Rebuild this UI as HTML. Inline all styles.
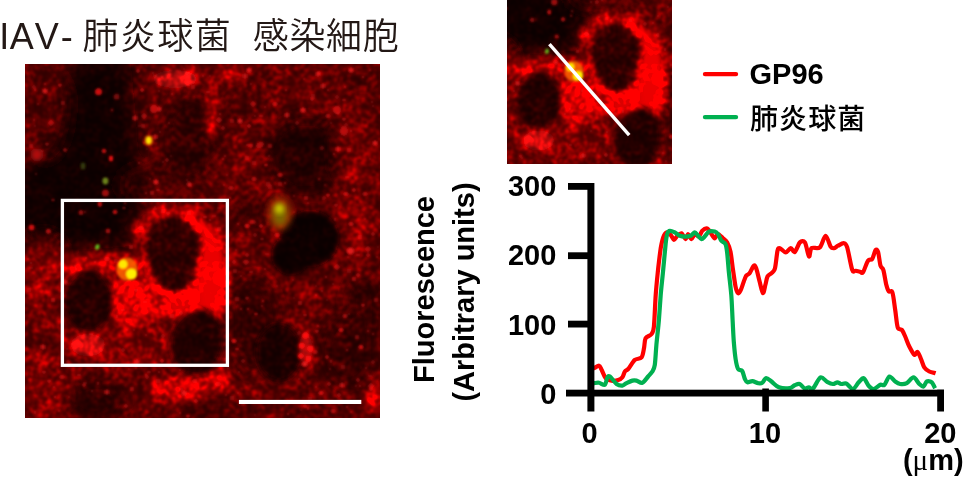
<!DOCTYPE html>
<html lang="ja"><head><meta charset="utf-8"><title>IAV- 肺炎球菌 感染細胞</title>
<style>
html,body{margin:0;padding:0;background:#fff;}
body{width:963px;height:483px;overflow:hidden;position:relative;}
svg{position:absolute;left:0;top:0;display:block;}
.ttl{font-family:"Liberation Sans","Noto Sans CJK JP",sans-serif;font-size:36px;fill:#231815;font-kerning:none;}
.cj{font-weight:350;}
.ax{font-family:"Liberation Sans","Noto Sans CJK JP",sans-serif;font-weight:bold;font-size:29px;fill:#000;}
.lg{font-family:"Liberation Sans","Noto Sans CJK JP",sans-serif;font-size:28px;font-weight:500;fill:#000;}
</style></head><body>
<svg width="963" height="483" viewBox="0 0 963 483">
<defs>
<filter id="b12" x="-20%" y="-20%" width="140%" height="140%"><feGaussianBlur stdDeviation="9"/></filter>
<filter id="b5" x="-20%" y="-20%" width="140%" height="140%"><feGaussianBlur stdDeviation="3.6"/></filter>
<filter id="b4" x="-20%" y="-20%" width="140%" height="140%"><feGaussianBlur stdDeviation="3.5"/></filter>
<filter id="b28" x="-30%" y="-30%" width="160%" height="160%"><feGaussianBlur stdDeviation="2.8"/></filter>
<filter id="b25" x="-30%" y="-30%" width="160%" height="160%"><feGaussianBlur stdDeviation="2.5"/></filter>
<filter id="b09" x="-30%" y="-30%" width="160%" height="160%"><feGaussianBlur stdDeviation="0.9"/></filter>
<filter id="b15" x="-20%" y="-20%" width="140%" height="140%"><feGaussianBlur stdDeviation="1.3"/></filter>
<filter id="tex" filterUnits="userSpaceOnUse" x="0" y="30" width="420" height="420" color-interpolation-filters="sRGB">
<feTurbulence type="fractalNoise" baseFrequency="0.21" numOctaves="2" seed="5" result="n1"/>
<feTurbulence type="fractalNoise" baseFrequency="0.06" numOctaves="2" seed="11" result="n2"/>
<feComposite in="n1" in2="n2" operator="arithmetic" k1="0" k2="0.6" k3="0.4" k4="0"/>
<feColorMatrix type="matrix" values="2.2 0 0 0 -0.6  2.2 0 0 0 -0.6  2.2 0 0 0 -0.6  0 0 0 0 1"/>
<feComponentTransfer><feFuncR type="gamma" exponent="2.0"/><feFuncG type="gamma" exponent="2.0"/><feFuncB type="gamma" exponent="2.0"/></feComponentTransfer>
<feGaussianBlur stdDeviation="0.9" result="g"/>
<feComposite in="SourceGraphic" in2="g" operator="arithmetic" k1="1.6" k2="0.62" k3="0" k4="0" result="noisy"/>
<feComponentTransfer in="SourceGraphic" result="hi"><feFuncR type="linear" slope="2.2" intercept="-1.28"/><feFuncG type="linear" slope="0" intercept="0"/><feFuncB type="linear" slope="0" intercept="0"/></feComponentTransfer>
<feBlend in="noisy" in2="hi" mode="lighten"/>
</filter>
<clipPath id="cm"><rect x="25.5" y="64.3" width="354.0" height="353.3"/></clipPath>
<clipPath id="ci"><rect x="507" y="-2" width="165" height="166"/></clipPath>
<g id="micro">
<g filter="url(#tex)">
<rect x="0" y="30" width="420" height="420" fill="#5c0000"/>
<g filter="url(#b12)"><polygon points="72,55 130,55 136,120 138,150 146,175 146,200 130,246 62,252 15,248 15,168 48,150 62,110" fill="#100000" opacity="0.97"/><ellipse cx="190" cy="140" rx="30" ry="46" fill="#2a0000" opacity="0.9"/><ellipse cx="242" cy="105" rx="22" ry="22" fill="#400000" opacity="0.6"/><ellipse cx="306" cy="156" rx="40" ry="40" fill="#1a0000" opacity="0.95"/><ellipse cx="248" cy="212" rx="15" ry="14" fill="#2c0000" opacity="0.85"/><ellipse cx="254" cy="325" rx="24" ry="50" fill="#280000" opacity="0.85"/><ellipse cx="364" cy="305" rx="18" ry="32" fill="#280000" opacity="0.8"/><ellipse cx="348" cy="352" rx="28" ry="38" fill="#2c0000" opacity="0.85"/><ellipse cx="310" cy="414" rx="22" ry="10" fill="#340000" opacity="0.7"/><ellipse cx="95" cy="400" rx="30" ry="22" fill="#220000" opacity="0.9"/><ellipse cx="205" cy="418" rx="45" ry="9" fill="#300000" opacity="0.8"/><ellipse cx="362" cy="80" rx="22" ry="12" fill="#380000" opacity="0.7"/><ellipse cx="150" cy="185" rx="30" ry="16" fill="#380000" opacity="0.7"/><ellipse cx="45" cy="110" rx="22" ry="50" fill="#400000" opacity="0.5"/><ellipse cx="120" cy="338" rx="62" ry="30" fill="#7c0000" opacity="0.9"/><ellipse cx="43" cy="280" rx="18" ry="40" fill="#800000" opacity="0.9"/><ellipse cx="43" cy="388" rx="18" ry="32" fill="#800000" opacity="0.9"/><ellipse cx="352" cy="150" rx="10" ry="35" fill="#900000" opacity="0.7"/><ellipse cx="355" cy="228" rx="22" ry="30" fill="#800000" opacity="0.7"/><ellipse cx="240" cy="170" rx="26" ry="20" fill="#700000" opacity="0.6"/></g>
<g filter="url(#b5)"><ellipse cx="152" cy="226" rx="24" ry="13" fill="#a80000" opacity="0.85" transform="rotate(-35 152 226)"/><ellipse cx="176" cy="212.5" rx="25" ry="6.5" fill="#e00000" opacity="0.85"/><ellipse cx="183" cy="267" rx="42" ry="52" fill="#f80000" opacity="1"/><ellipse cx="213" cy="276" rx="15" ry="46" fill="#ff0000" opacity="1"/><ellipse cx="137" cy="300" rx="30" ry="22" fill="#d00000" opacity="0.9"/><ellipse cx="88" cy="345" rx="17" ry="11" fill="#f01010" opacity="0.9"/><ellipse cx="92" cy="265" rx="50" ry="11" fill="#c00000" opacity="0.85"/><ellipse cx="128" cy="300" rx="20" ry="30" fill="#d00000" opacity="0.8"/><ellipse cx="180" cy="389" rx="32" ry="12" fill="#d80000" opacity="0.88"/><ellipse cx="216" cy="381" rx="13" ry="13" fill="#d80000" opacity="0.88"/><ellipse cx="175" cy="79" rx="22" ry="9" fill="#d01010" opacity="0.8"/><ellipse cx="232" cy="75" rx="14" ry="8" fill="#c00000" opacity="0.7"/><ellipse cx="212" cy="108" rx="5" ry="30" fill="#d00000" opacity="0.8"/><ellipse cx="372" cy="402" rx="9" ry="10" fill="#e00000" opacity="0.8"/></g>
<g filter="url(#b28)"><ellipse cx="172.5" cy="248" rx="28" ry="32" fill="#2e0000" opacity="1"/><ellipse cx="174.5" cy="268" rx="22.5" ry="24" fill="#2e0000" opacity="1"/><ellipse cx="88.5" cy="301" rx="23.5" ry="30.5" fill="#240000" opacity="1"/><ellipse cx="197" cy="342" rx="26" ry="32.5" fill="#200000" opacity="1" transform="rotate(10 197 342)"/><ellipse cx="310" cy="238.5" rx="29" ry="28.5" fill="#110000" opacity="1"/><ellipse cx="291" cy="255" rx="19.5" ry="20" fill="#110000" opacity="1"/><ellipse cx="279" cy="352.5" rx="23" ry="29" fill="#1a0000" opacity="1"/></g>
</g>
<g fill="#ff1c1c" filter="url(#b09)"><circle cx="261" cy="116" r="1.3" opacity="0.6"/><circle cx="123" cy="350" r="1.8" opacity="0.4"/><circle cx="345" cy="87" r="0.9" opacity="0.75"/><circle cx="268" cy="184" r="2.6" opacity="0.3"/><circle cx="34" cy="87" r="1.8" opacity="0.4"/><circle cx="59" cy="411" r="0.9" opacity="0.6"/><circle cx="368" cy="255" r="1.8" opacity="0.4"/><circle cx="370" cy="376" r="1.8" opacity="0.3"/><circle cx="168" cy="213" r="1.5" opacity="0.75"/><circle cx="162" cy="77" r="1.1" opacity="0.5"/><circle cx="152" cy="193" r="2.2" opacity="0.5"/><circle cx="203" cy="76" r="1.5" opacity="0.3"/><circle cx="163" cy="336" r="1.8" opacity="0.4"/><circle cx="251" cy="84" r="1.1" opacity="0.5"/><circle cx="196" cy="401" r="1.8" opacity="0.5"/><circle cx="91" cy="334" r="1.8" opacity="0.3"/><circle cx="360" cy="386" r="1.1" opacity="0.4"/><circle cx="219" cy="120" r="2.6" opacity="0.5"/><circle cx="251" cy="146" r="1.5" opacity="0.6"/><circle cx="247" cy="158" r="2.2" opacity="0.4"/><circle cx="252" cy="222" r="2.2" opacity="0.5"/><circle cx="210" cy="76" r="0.9" opacity="0.4"/><circle cx="223" cy="159" r="1.1" opacity="0.6"/><circle cx="193" cy="87" r="2.2" opacity="0.5"/><circle cx="294" cy="212" r="1.5" opacity="0.4"/><circle cx="231" cy="188" r="2.2" opacity="0.6"/><circle cx="225" cy="72" r="0.9" opacity="0.3"/><circle cx="342" cy="385" r="2.6" opacity="0.6"/><circle cx="305" cy="315" r="1.3" opacity="0.75"/><circle cx="265" cy="269" r="1.3" opacity="0.5"/><circle cx="280" cy="175" r="2.2" opacity="0.6"/><circle cx="155" cy="76" r="1.5" opacity="0.6"/><circle cx="147" cy="149" r="1.1" opacity="0.3"/><circle cx="365" cy="194" r="2.2" opacity="0.6"/><circle cx="131" cy="247" r="2.2" opacity="0.5"/><circle cx="327" cy="357" r="1.8" opacity="0.6"/><circle cx="210" cy="220" r="0.9" opacity="0.75"/><circle cx="227" cy="175" r="0.9" opacity="0.5"/><circle cx="299" cy="379" r="1.1" opacity="0.4"/><circle cx="155" cy="209" r="1.3" opacity="0.6"/><circle cx="312" cy="342" r="1.1" opacity="0.4"/><circle cx="306" cy="198" r="2.2" opacity="0.5"/><circle cx="146" cy="335" r="1.5" opacity="0.4"/><circle cx="368" cy="249" r="2.6" opacity="0.5"/><circle cx="371" cy="386" r="2.6" opacity="0.5"/><circle cx="36" cy="174" r="1.1" opacity="0.4"/><circle cx="136" cy="368" r="0.9" opacity="0.5"/><circle cx="267" cy="254" r="1.8" opacity="0.3"/><circle cx="163" cy="211" r="2.2" opacity="0.5"/><circle cx="34" cy="120" r="1.3" opacity="0.3"/><circle cx="363" cy="305" r="1.5" opacity="0.75"/><circle cx="159" cy="91" r="1.3" opacity="0.3"/><circle cx="321" cy="393" r="2.2" opacity="0.75"/><circle cx="243" cy="404" r="2.2" opacity="0.3"/><circle cx="235" cy="271" r="2.2" opacity="0.4"/><circle cx="189" cy="184" r="2.6" opacity="0.5"/><circle cx="308" cy="203" r="1.3" opacity="0.3"/><circle cx="373" cy="334" r="1.3" opacity="0.4"/><circle cx="132" cy="389" r="2.2" opacity="0.5"/><circle cx="31" cy="146" r="2.2" opacity="0.5"/><circle cx="317" cy="331" r="1.5" opacity="0.6"/><circle cx="147" cy="377" r="1.8" opacity="0.5"/><circle cx="225" cy="359" r="1.5" opacity="0.5"/><circle cx="115" cy="212" r="2.2" opacity="0.75"/><circle cx="249" cy="126" r="1.8" opacity="0.75"/><circle cx="230" cy="198" r="1.3" opacity="0.5"/><circle cx="358" cy="275" r="1.8" opacity="0.6"/><circle cx="339" cy="395" r="1.8" opacity="0.5"/><circle cx="328" cy="116" r="2.2" opacity="0.6"/><circle cx="331" cy="123" r="0.9" opacity="0.5"/><circle cx="322" cy="148" r="2.2" opacity="0.3"/><circle cx="251" cy="272" r="1.3" opacity="0.6"/><circle cx="163" cy="162" r="1.1" opacity="0.4"/><circle cx="234" cy="341" r="2.2" opacity="0.75"/><circle cx="325" cy="185" r="1.1" opacity="0.3"/><circle cx="53" cy="300" r="2.2" opacity="0.5"/><circle cx="344" cy="119" r="1.5" opacity="0.75"/><circle cx="45" cy="84" r="1.3" opacity="0.4"/><circle cx="238" cy="393" r="1.1" opacity="0.6"/><circle cx="329" cy="384" r="1.8" opacity="0.5"/><circle cx="303" cy="110" r="2.6" opacity="0.75"/><circle cx="65" cy="150" r="1.8" opacity="0.6"/><circle cx="65" cy="282" r="2.6" opacity="0.75"/><circle cx="322" cy="291" r="0.9" opacity="0.6"/><circle cx="162" cy="361" r="1.8" opacity="0.75"/><circle cx="368" cy="331" r="0.9" opacity="0.75"/><circle cx="158" cy="381" r="2.6" opacity="0.3"/><circle cx="375" cy="143" r="2.6" opacity="0.75"/><circle cx="300" cy="303" r="2.2" opacity="0.5"/><circle cx="270" cy="187" r="2.6" opacity="0.3"/><circle cx="67" cy="349" r="1.1" opacity="0.4"/><circle cx="86" cy="258" r="1.3" opacity="0.4"/><circle cx="319" cy="73" r="1.5" opacity="0.75"/><circle cx="187" cy="180" r="1.3" opacity="0.3"/><circle cx="127" cy="330" r="1.1" opacity="0.3"/><circle cx="354" cy="190" r="1.8" opacity="0.6"/><circle cx="158" cy="190" r="1.3" opacity="0.75"/><circle cx="333" cy="284" r="0.9" opacity="0.5"/><circle cx="246" cy="262" r="2.6" opacity="0.3"/><circle cx="349" cy="150" r="2.6" opacity="0.4"/><circle cx="337" cy="97" r="1.8" opacity="0.4"/><circle cx="288" cy="414" r="1.3" opacity="0.5"/><circle cx="347" cy="177" r="1.3" opacity="0.6"/><circle cx="343" cy="367" r="2.6" opacity="0.3"/><circle cx="262" cy="239" r="1.1" opacity="0.75"/><circle cx="98" cy="383" r="1.5" opacity="0.5"/><circle cx="373" cy="362" r="1.8" opacity="0.4"/><circle cx="373" cy="106" r="1.1" opacity="0.4"/><circle cx="351" cy="224" r="2.2" opacity="0.6"/><circle cx="346" cy="125" r="1.8" opacity="0.4"/><circle cx="255" cy="116" r="1.1" opacity="0.5"/><circle cx="247" cy="298" r="1.5" opacity="0.6"/><circle cx="287" cy="115" r="2.6" opacity="0.6"/><circle cx="241" cy="309" r="1.1" opacity="0.6"/><circle cx="305" cy="406" r="1.8" opacity="0.75"/><circle cx="236" cy="250" r="1.3" opacity="0.3"/><circle cx="348" cy="257" r="0.9" opacity="0.6"/><circle cx="238" cy="224" r="1.1" opacity="0.6"/><circle cx="263" cy="301" r="0.9" opacity="0.75"/><circle cx="181" cy="389" r="1.8" opacity="0.3"/><circle cx="51" cy="123" r="2.6" opacity="0.5"/><circle cx="370" cy="70" r="0.9" opacity="0.5"/><circle cx="294" cy="196" r="1.3" opacity="0.3"/><circle cx="349" cy="271" r="2.6" opacity="0.3"/><circle cx="335" cy="219" r="1.5" opacity="0.5"/><circle cx="360" cy="386" r="0.9" opacity="0.5"/><circle cx="123" cy="310" r="1.3" opacity="0.6"/><circle cx="194" cy="67" r="0.9" opacity="0.4"/><circle cx="107" cy="392" r="2.6" opacity="0.6"/><circle cx="338" cy="334" r="0.9" opacity="0.3"/><circle cx="339" cy="404" r="1.1" opacity="0.6"/><circle cx="44" cy="372" r="1.5" opacity="0.75"/><circle cx="137" cy="316" r="1.1" opacity="0.3"/><circle cx="172" cy="94" r="1.5" opacity="0.3"/><circle cx="139" cy="163" r="1.3" opacity="0.5"/><circle cx="301" cy="410" r="0.9" opacity="0.4"/><circle cx="256" cy="314" r="1.3" opacity="0.75"/><circle cx="328" cy="195" r="1.5" opacity="0.75"/><circle cx="68" cy="362" r="1.8" opacity="0.5"/><circle cx="280" cy="184" r="2.2" opacity="0.4"/><circle cx="134" cy="330" r="0.9" opacity="0.6"/><circle cx="138" cy="71" r="1.8" opacity="0.6"/><circle cx="247" cy="368" r="0.9" opacity="0.3"/><circle cx="62" cy="377" r="2.2" opacity="0.6"/><circle cx="255" cy="235" r="1.8" opacity="0.4"/><circle cx="219" cy="208" r="1.8" opacity="0.3"/><circle cx="357" cy="337" r="2.2" opacity="0.4"/><circle cx="318" cy="74" r="2.6" opacity="0.6"/><circle cx="333" cy="411" r="2.2" opacity="0.6"/><circle cx="84" cy="385" r="1.8" opacity="0.6"/><circle cx="139" cy="126" r="1.1" opacity="0.3"/><circle cx="358" cy="255" r="1.1" opacity="0.75"/><circle cx="117" cy="316" r="1.5" opacity="0.5"/><circle cx="247" cy="226" r="2.2" opacity="0.75"/><circle cx="29" cy="290" r="2.6" opacity="0.3"/><circle cx="49" cy="381" r="1.5" opacity="0.6"/><circle cx="245" cy="76" r="2.6" opacity="0.6"/><circle cx="167" cy="160" r="1.8" opacity="0.5"/><circle cx="160" cy="132" r="1.3" opacity="0.4"/><circle cx="239" cy="372" r="1.1" opacity="0.4"/><circle cx="247" cy="255" r="1.8" opacity="0.4"/><circle cx="159" cy="109" r="2.6" opacity="0.75"/><circle cx="47" cy="144" r="1.5" opacity="0.6"/><circle cx="69" cy="397" r="0.9" opacity="0.4"/><circle cx="313" cy="96" r="2.6" opacity="0.3"/><circle cx="135" cy="118" r="2.6" opacity="0.6"/><circle cx="293" cy="280" r="1.3" opacity="0.3"/><circle cx="249" cy="70" r="2.6" opacity="0.75"/><circle cx="347" cy="407" r="1.1" opacity="0.6"/><circle cx="308" cy="408" r="1.5" opacity="0.5"/><circle cx="137" cy="362" r="2.6" opacity="0.75"/><circle cx="265" cy="107" r="1.1" opacity="0.6"/><circle cx="316" cy="286" r="1.1" opacity="0.3"/><circle cx="270" cy="146" r="2.2" opacity="0.4"/><circle cx="70" cy="364" r="1.8" opacity="0.3"/><circle cx="254" cy="179" r="2.2" opacity="0.6"/><circle cx="326" cy="277" r="1.3" opacity="0.5"/><circle cx="129" cy="369" r="1.1" opacity="0.5"/><circle cx="79" cy="375" r="1.1" opacity="0.75"/><circle cx="31" cy="268" r="1.8" opacity="0.3"/><circle cx="188" cy="416" r="1.5" opacity="0.75"/><circle cx="237" cy="349" r="1.3" opacity="0.75"/><circle cx="315" cy="352" r="2.2" opacity="0.6"/><circle cx="141" cy="228" r="2.2" opacity="0.75"/><circle cx="149" cy="372" r="1.1" opacity="0.75"/><circle cx="254" cy="222" r="1.8" opacity="0.4"/><circle cx="361" cy="347" r="2.2" opacity="0.75"/><circle cx="205" cy="217" r="1.3" opacity="0.75"/><circle cx="124" cy="208" r="1.1" opacity="0.75"/><circle cx="331" cy="361" r="1.5" opacity="0.5"/><circle cx="195" cy="381" r="2.2" opacity="0.4"/><circle cx="319" cy="179" r="1.5" opacity="0.3"/><circle cx="338" cy="113" r="1.5" opacity="0.75"/><circle cx="251" cy="145" r="1.1" opacity="0.75"/><circle cx="354" cy="279" r="2.2" opacity="0.5"/><circle cx="228" cy="340" r="0.9" opacity="0.6"/><circle cx="349" cy="314" r="1.3" opacity="0.3"/><circle cx="85" cy="383" r="1.8" opacity="0.3"/><circle cx="107" cy="259" r="2.2" opacity="0.75"/><circle cx="35" cy="412" r="1.5" opacity="0.5"/><circle cx="227" cy="245" r="1.8" opacity="0.5"/><circle cx="43" cy="347" r="2.6" opacity="0.6"/><circle cx="187" cy="73" r="1.5" opacity="0.75"/><circle cx="334" cy="154" r="0.9" opacity="0.75"/><circle cx="159" cy="372" r="1.5" opacity="0.4"/><circle cx="346" cy="194" r="2.2" opacity="0.75"/><circle cx="234" cy="262" r="1.8" opacity="0.4"/><circle cx="240" cy="121" r="2.6" opacity="0.75"/><circle cx="230" cy="113" r="0.9" opacity="0.3"/><circle cx="172" cy="316" r="2.2" opacity="0.5"/><circle cx="344" cy="100" r="1.3" opacity="0.75"/><circle cx="208" cy="92" r="1.3" opacity="0.75"/><circle cx="226" cy="395" r="0.9" opacity="0.6"/><circle cx="299" cy="333" r="2.2" opacity="0.3"/><circle cx="214" cy="216" r="1.8" opacity="0.3"/><circle cx="31" cy="263" r="1.3" opacity="0.5"/><circle cx="318" cy="326" r="1.3" opacity="0.4"/><circle cx="224" cy="185" r="0.9" opacity="0.6"/><circle cx="116" cy="261" r="2.6" opacity="0.3"/><circle cx="28" cy="259" r="1.1" opacity="0.5"/><circle cx="228" cy="368" r="1.5" opacity="0.4"/><circle cx="194" cy="381" r="1.1" opacity="0.6"/><circle cx="35" cy="126" r="0.9" opacity="0.4"/><circle cx="53" cy="200" r="1.3" opacity="0.6"/><circle cx="248" cy="145" r="1.3" opacity="0.6"/><circle cx="155" cy="207" r="0.9" opacity="0.4"/><circle cx="312" cy="99" r="1.8" opacity="0.75"/><circle cx="262" cy="306" r="1.1" opacity="0.5"/><circle cx="104" cy="151" r="2.2" opacity="0.75"/><circle cx="304" cy="79" r="0.9" opacity="0.4"/><circle cx="370" cy="159" r="0.9" opacity="0.4"/><circle cx="351" cy="131" r="1.3" opacity="0.5"/><circle cx="175" cy="202" r="0.9" opacity="0.6"/><circle cx="155" cy="137" r="2.6" opacity="0.6"/><circle cx="75" cy="266" r="1.5" opacity="0.4"/><circle cx="248" cy="309" r="1.3" opacity="0.5"/><circle cx="253" cy="104" r="2.6" opacity="0.5"/><circle cx="246" cy="262" r="2.6" opacity="0.3"/><circle cx="285" cy="183" r="1.3" opacity="0.5"/><circle cx="243" cy="361" r="1.8" opacity="0.4"/><circle cx="220" cy="114" r="1.3" opacity="0.4"/><circle cx="132" cy="364" r="1.5" opacity="0.4"/><circle cx="294" cy="298" r="1.1" opacity="0.3"/><circle cx="377" cy="257" r="0.9" opacity="0.6"/><circle cx="184" cy="69" r="1.1" opacity="0.4"/><circle cx="366" cy="368" r="1.3" opacity="0.4"/><circle cx="341" cy="330" r="2.2" opacity="0.75"/><circle cx="241" cy="276" r="1.1" opacity="0.6"/><circle cx="297" cy="123" r="1.8" opacity="0.4"/><circle cx="112" cy="110" r="1.5" opacity="0.4"/><circle cx="92" cy="391" r="1.3" opacity="0.4"/><circle cx="35" cy="90" r="1.3" opacity="0.5"/><circle cx="171" cy="156" r="1.1" opacity="0.3"/><circle cx="254" cy="163" r="2.6" opacity="0.3"/><circle cx="218" cy="384" r="2.2" opacity="0.75"/><circle cx="351" cy="70" r="2.6" opacity="0.75"/><circle cx="286" cy="90" r="1.5" opacity="0.4"/><circle cx="316" cy="295" r="1.5" opacity="0.4"/><circle cx="38" cy="104" r="0.9" opacity="0.6"/><circle cx="189" cy="213" r="2.6" opacity="0.3"/><circle cx="345" cy="316" r="2.2" opacity="0.6"/><circle cx="266" cy="165" r="1.3" opacity="0.75"/><circle cx="223" cy="128" r="1.8" opacity="0.5"/><circle cx="255" cy="415" r="0.9" opacity="0.4"/><circle cx="358" cy="380" r="1.8" opacity="0.5"/><circle cx="156" cy="182" r="2.6" opacity="0.75"/><circle cx="125" cy="203" r="1.3" opacity="0.4"/><circle cx="376" cy="300" r="2.2" opacity="0.4"/><circle cx="347" cy="350" r="1.1" opacity="0.6"/><circle cx="45" cy="91" r="2.6" opacity="0.75"/><circle cx="76" cy="269" r="0.9" opacity="0.75"/><circle cx="310" cy="399" r="2.6" opacity="0.3"/><circle cx="150" cy="138" r="1.1" opacity="0.3"/><circle cx="371" cy="389" r="1.8" opacity="0.5"/><circle cx="181" cy="313" r="1.8" opacity="0.6"/><circle cx="42" cy="151" r="1.1" opacity="0.75"/><circle cx="150" cy="179" r="1.1" opacity="0.4"/><circle cx="190" cy="185" r="2.2" opacity="0.5"/><circle cx="225" cy="156" r="1.5" opacity="0.4"/><circle cx="275" cy="104" r="2.2" opacity="0.6"/><circle cx="55" cy="397" r="1.3" opacity="0.5"/><circle cx="145" cy="302" r="1.1" opacity="0.75"/><circle cx="316" cy="387" r="0.9" opacity="0.5"/><circle cx="146" cy="193" r="1.5" opacity="0.4"/><circle cx="144" cy="143" r="0.9" opacity="0.75"/><circle cx="330" cy="369" r="1.1" opacity="0.4"/><circle cx="184" cy="393" r="2.6" opacity="0.75"/><circle cx="324" cy="198" r="2.2" opacity="0.3"/><circle cx="344" cy="194" r="1.1" opacity="0.6"/><circle cx="232" cy="398" r="2.6" opacity="0.4"/><circle cx="277" cy="286" r="0.9" opacity="0.4"/><circle cx="269" cy="156" r="1.3" opacity="0.3"/><circle cx="95" cy="262" r="0.9" opacity="0.75"/><circle cx="356" cy="386" r="1.3" opacity="0.3"/><circle cx="363" cy="77" r="1.3" opacity="0.5"/><circle cx="323" cy="86" r="2.6" opacity="0.6"/><circle cx="277" cy="235" r="2.2" opacity="0.75"/><circle cx="61" cy="291" r="1.1" opacity="0.6"/><circle cx="142" cy="90" r="1.8" opacity="0.75"/><circle cx="180" cy="370" r="1.5" opacity="0.3"/><circle cx="126" cy="261" r="1.3" opacity="0.3"/><circle cx="63" cy="278" r="0.9" opacity="0.3"/><circle cx="338" cy="149" r="2.6" opacity="0.6"/><circle cx="60" cy="85" r="1.5" opacity="0.75"/><circle cx="169" cy="123" r="1.1" opacity="0.6"/><circle cx="365" cy="219" r="1.1" opacity="0.3"/><circle cx="336" cy="205" r="1.5" opacity="0.6"/><circle cx="373" cy="234" r="1.8" opacity="0.6"/><circle cx="232" cy="121" r="2.2" opacity="0.4"/><circle cx="328" cy="90" r="1.5" opacity="0.3"/><circle cx="239" cy="223" r="0.9" opacity="0.3"/><circle cx="144" cy="116" r="2.6" opacity="0.5"/><circle cx="360" cy="237" r="2.6" opacity="0.3"/><circle cx="337" cy="267" r="2.6" opacity="0.5"/><circle cx="153" cy="73" r="1.5" opacity="0.3"/><circle cx="146" cy="375" r="1.5" opacity="0.4"/><circle cx="378" cy="247" r="0.9" opacity="0.4"/><circle cx="126" cy="406" r="1.8" opacity="0.6"/><circle cx="54" cy="387" r="0.9" opacity="0.75"/><circle cx="85" cy="212" r="1.1" opacity="0.5"/><circle cx="143" cy="126" r="2.2" opacity="0.4"/><circle cx="237" cy="299" r="2.6" opacity="0.4"/><circle cx="63" cy="103" r="2.2" opacity="0.4"/><circle cx="327" cy="300" r="1.1" opacity="0.3"/><circle cx="219" cy="229" r="2.2" opacity="0.4"/><circle cx="351" cy="412" r="1.3" opacity="0.3"/><circle cx="372" cy="102" r="1.1" opacity="0.6"/><circle cx="261" cy="226" r="1.8" opacity="0.75"/><circle cx="136" cy="290" r="1.5" opacity="0.75"/><circle cx="180" cy="413" r="0.9" opacity="0.75"/></g>
<g filter="url(#b25)"><ellipse cx="305.5" cy="349" rx="7" ry="15" fill="#e01010" opacity="0.55"/><ellipse cx="37" cy="154.7" rx="6.5" ry="6.5" fill="#c01010" opacity="0.9"/></g>
<g filter="url(#b4)"><ellipse cx="280" cy="213" rx="12" ry="17" fill="#b82800" opacity="0.75"/><ellipse cx="280" cy="214.5" rx="7.5" ry="12" fill="#747000" opacity="0.9"/></g>
<g filter="url(#b25)"><ellipse cx="279.3" cy="208.8" rx="4.6" ry="5" fill="#d0cc00" opacity="0.95"/></g>
<g filter="url(#b15)"><ellipse cx="98.5" cy="91.7" rx="3.5" ry="3.5" fill="#e01010" opacity="0.9"/><ellipse cx="305.6" cy="335.5" rx="3.6" ry="3.6" fill="#ff0a0a" opacity="1"/><ellipse cx="301.9" cy="345.8" rx="3.2" ry="3.2" fill="#ff0a0a" opacity="0.95"/><ellipse cx="310.3" cy="348.6" rx="3.4" ry="3.4" fill="#ff0a0a" opacity="0.95"/><ellipse cx="300.9" cy="356" rx="3" ry="3" fill="#ff0a0a" opacity="0.9"/><ellipse cx="308.4" cy="358.8" rx="3.2" ry="3.2" fill="#ff0a0a" opacity="0.95"/><ellipse cx="304.7" cy="364" rx="2.6" ry="2.6" fill="#f02020" opacity="0.8"/><ellipse cx="116.6" cy="96.7" rx="3" ry="3" fill="#a01010" opacity="0.7"/><ellipse cx="154" cy="109" rx="4" ry="4" fill="#d01010" opacity="0.8"/><ellipse cx="111" cy="158.4" rx="2.2" ry="3" fill="#f01010" opacity="0.95"/><ellipse cx="105.4" cy="181" rx="3" ry="3.4" fill="#80a020" opacity="0.8"/><ellipse cx="105.4" cy="193" rx="3.5" ry="3.5" fill="#c01010" opacity="0.8"/><ellipse cx="83" cy="166" rx="2.5" ry="3.5" fill="#405010" opacity="0.7"/><ellipse cx="31.5" cy="227.6" rx="3" ry="3" fill="#e01010" opacity="0.9"/><ellipse cx="48.4" cy="231.3" rx="2.5" ry="2.5" fill="#c01010" opacity="0.9"/><ellipse cx="81" cy="212.6" rx="2.5" ry="2.5" fill="#b01010" opacity="0.8"/><ellipse cx="99.8" cy="204" rx="2.2" ry="2.8" fill="#d01010" opacity="0.9"/><ellipse cx="108" cy="231" rx="2.5" ry="2.5" fill="#c01010" opacity="0.8"/><ellipse cx="97.3" cy="247" rx="2.1" ry="2.8" fill="#60c020" opacity="0.95" transform="rotate(20 97.3 247)"/><ellipse cx="350.5" cy="251" rx="3.5" ry="3.5" fill="#f02020" opacity="0.8"/><ellipse cx="337" cy="110" rx="4" ry="4" fill="#d81010" opacity="0.8"/><ellipse cx="260" cy="145" rx="4" ry="3" fill="#d01010" opacity="0.7" transform="rotate(-30 260 145)"/><ellipse cx="344" cy="131" rx="4" ry="5" fill="#e01010" opacity="0.7"/></g>
<g filter="url(#b09)"><ellipse cx="127" cy="269" rx="10.5" ry="11.5" fill="#ff6a00" opacity="0.82"/><ellipse cx="123" cy="264.2" rx="4.6" ry="4.6" fill="#ffe800" opacity="1"/><ellipse cx="131.5" cy="274" rx="5.5" ry="5.5" fill="#fff000" opacity="1"/><ellipse cx="148.7" cy="140.4" rx="5.5" ry="6" fill="#ff3000" opacity="0.45"/><ellipse cx="148.7" cy="140.4" rx="3.0" ry="3.8" fill="#ffe000" opacity="1"/></g>
</g>
</defs>
<rect width="963" height="483" fill="#fff"/>
<g clip-path="url(#cm)"><use href="#micro"/></g>
<rect x="62.4" y="200.4" width="165" height="164.9" fill="none" stroke="#fff" stroke-width="3.3"/>
<rect x="238.9" y="399.9" width="122.4" height="4.1" fill="#fff"/>
<g clip-path="url(#ci)"><use href="#micro" transform="translate(458.35 -173.5) scale(0.91)"/></g>
<line x1="549.4" y1="44.2" x2="629.2" y2="135.2" stroke="#fff" stroke-width="3.4"/>

<text class="ttl" x="-0.8" y="49" dx="0 0.6 0.9 2">IAV-</text>
<text class="ttl cj" x="82.5" y="49" letter-spacing="1.4">肺炎球菌</text>
<text class="ttl cj" x="252.7" y="49" letter-spacing="0.7">感染細胞</text>

<line x1="705" y1="74.1" x2="736" y2="74.1" stroke="#ff0000" stroke-width="4.4" stroke-linecap="round"/>
<line x1="705" y1="117.1" x2="736" y2="117.1" stroke="#00b050" stroke-width="4.4" stroke-linecap="round"/>
<text class="ax" x="749.5" y="84">GP96</text>
<text class="lg" x="750" y="128.5" letter-spacing="1.1">肺炎球菌</text>

<path d="M590.8,369.6 C591.3,369.4 592.9,368.8 594.1,368.2 C595.3,367.6 598.0,365.5 599.1,365.7 C600.2,365.9 600.6,367.9 601.6,369.8 C602.6,371.7 604.3,376.6 605.8,378.2 C607.3,379.8 609.7,380.3 611.6,380.6 C613.5,380.9 616.6,380.6 618.2,380.1 C619.8,379.6 621.4,378.6 622.4,377.3 C623.4,376.0 624.0,372.7 624.9,371.5 C625.8,370.3 626.7,370.7 628.2,369.0 C629.7,367.3 632.8,361.6 634.8,359.9 C636.8,358.2 640.1,359.2 641.5,357.4 C642.9,355.6 643.4,351.1 644.0,348.2 C644.6,345.3 644.5,340.4 645.6,338.3 C646.7,336.2 650.3,335.9 651.5,334.1 C652.7,332.3 653.3,332.5 653.9,326.6 C654.5,320.8 655.1,303.9 655.7,295.1 C656.3,286.3 657.5,275.2 658.2,268.2 C659.0,261.2 660.0,252.8 660.7,248.2 C661.5,243.6 662.3,239.8 663.2,237.4 C664.1,235.0 665.4,232.8 666.5,232.4 C667.6,232.0 669.6,233.8 670.7,234.9 C671.8,236.0 673.0,239.8 674.0,239.9 C675.0,240.0 676.2,236.8 677.3,235.8 C678.4,234.8 680.3,232.8 681.5,233.3 C682.7,233.8 684.6,239.0 685.6,239.1 C686.6,239.2 687.2,234.1 688.1,234.1 C689.0,234.1 690.5,239.1 691.5,239.1 C692.5,239.1 693.7,234.5 694.8,234.1 C695.9,233.7 697.8,237.1 698.9,236.6 C700.0,236.1 701.1,232.0 702.3,230.8 C703.5,229.6 705.8,228.1 707.2,228.6 C708.6,229.1 710.3,232.6 711.4,234.1 C712.5,235.6 713.7,238.3 714.7,238.3 C715.7,238.3 716.8,234.1 718.0,234.1 C719.2,234.1 721.6,237.1 723.0,238.3 C724.4,239.5 726.1,240.4 727.2,242.4 C728.3,244.4 729.6,247.5 730.5,251.6 C731.4,255.7 732.2,264.6 733.0,269.8 C733.8,275.0 734.8,282.9 735.5,286.4 C736.2,289.9 737.2,292.5 738.0,293.1 C738.8,293.7 739.6,292.3 740.5,290.6 C741.4,288.9 742.9,283.8 743.8,281.5 C744.7,279.2 745.4,276.8 746.3,275.6 C747.2,274.4 748.5,274.7 749.6,273.2 C750.7,271.7 752.8,266.4 753.8,265.7 C754.8,264.9 755.3,265.8 756.2,268.2 C757.1,270.6 758.6,277.8 759.6,281.5 C760.6,285.2 762.0,292.6 762.9,293.1 C763.8,293.6 764.7,287.3 765.4,284.8 C766.1,282.3 766.6,278.3 767.5,276.5 C768.4,274.7 770.5,274.3 771.6,273.1 C772.7,271.9 774.1,271.6 775.0,268.2 C775.9,264.8 776.8,253.7 777.5,250.7 C778.2,247.7 778.8,247.9 780.0,248.2 C781.2,248.5 784.2,252.4 785.8,252.4 C787.4,252.4 789.4,248.3 790.8,248.2 C792.2,248.1 793.5,252.8 794.9,251.9 C796.3,251.0 798.4,243.8 799.9,242.4 C801.4,241.0 803.5,240.3 804.9,242.4 C806.3,244.5 808.0,255.6 809.0,256.5 C810.0,257.4 809.9,249.6 811.5,248.2 C813.1,246.8 817.7,249.3 819.8,247.4 C821.9,245.5 824.0,235.9 825.6,235.8 C827.2,235.7 829.4,244.7 830.6,246.6 C831.8,248.5 832.8,248.3 833.9,248.2 C835.0,248.1 836.6,246.4 838.1,245.7 C839.6,244.9 842.5,242.9 843.9,243.2 C845.3,243.5 846.0,243.4 847.2,247.4 C848.4,251.4 851.0,266.3 852.2,269.8 C853.4,273.3 854.3,270.5 855.5,270.8 C856.7,271.1 858.9,271.6 860.0,271.8 C861.1,272.0 861.8,274.0 863.0,272.3 C864.2,270.6 866.6,262.7 868.0,260.7 C869.4,258.7 871.1,260.6 872.2,259.0 C873.3,257.4 874.6,251.3 875.5,250.2 C876.4,249.1 877.2,249.3 878.0,251.6 C878.8,253.9 879.7,263.0 880.5,265.7 C881.3,268.4 882.4,266.9 883.3,269.8 C884.2,272.7 885.5,281.6 886.3,284.8 C887.1,288.0 887.9,290.3 888.8,291.4 C889.7,292.5 891.4,289.6 892.4,292.4 C893.4,295.2 894.4,304.6 895.2,309.9 C896.0,315.1 896.7,324.4 897.7,327.4 C898.7,330.4 900.8,328.5 901.9,329.9 C903.0,331.3 904.1,334.0 905.2,336.5 C906.3,339.0 907.9,343.8 909.3,346.5 C910.7,349.2 913.1,354.0 914.3,354.8 C915.5,355.6 916.6,351.4 917.6,352.0 C918.6,352.6 920.0,356.7 921.0,359.0 C922.0,361.3 923.1,365.5 924.3,367.4 C925.5,369.3 927.6,370.6 929.3,371.5 C931.0,372.4 934.7,372.9 935.6,373.2" fill="none" stroke="#ff0000" stroke-width="4.2" stroke-linejoin="round" stroke-linecap="butt"/>
<path d="M590.8,383.3 C591.3,383.3 592.9,383.2 594.1,383.1 C595.3,383.0 597.5,382.5 599.1,382.8 C600.7,383.1 603.7,385.6 604.9,384.8 C606.1,384.0 606.6,378.5 607.4,377.3 C608.1,376.1 608.5,375.5 609.9,376.5 C611.3,377.5 614.7,382.6 616.6,384.0 C618.5,385.4 620.9,385.7 622.4,385.6 C623.9,385.5 625.0,383.9 626.5,383.1 C628.0,382.4 630.9,381.0 632.4,380.6 C633.9,380.2 635.0,380.3 636.5,380.6 C638.0,380.9 640.6,383.4 642.3,382.8 C644.0,382.2 646.6,378.2 648.1,376.5 C649.6,374.8 651.3,373.2 652.3,371.5 C653.3,369.8 654.2,368.9 654.8,364.9 C655.4,360.9 655.8,351.6 656.4,344.9 C657.0,338.2 658.3,327.5 658.9,320.0 C659.5,312.5 660.1,302.6 660.7,295.1 C661.3,287.6 662.5,277.6 663.2,269.8 C664.0,262.0 665.1,248.7 665.7,243.2 C666.3,237.7 666.8,235.2 667.4,233.3 C668.0,231.4 668.8,230.9 669.9,230.8 C671.0,230.7 673.3,231.7 674.8,232.4 C676.3,233.2 678.3,235.2 679.8,235.8 C681.3,236.4 683.2,236.6 684.8,236.6 C686.4,236.6 689.1,236.4 690.6,235.8 C692.1,235.2 693.7,232.4 694.8,232.4 C695.9,232.4 697.1,234.8 698.1,235.8 C699.1,236.8 700.4,239.0 701.4,239.1 C702.4,239.2 703.6,237.7 704.7,236.6 C705.8,235.5 707.4,232.3 708.9,231.6 C710.4,230.8 713.3,231.2 714.7,231.6 C716.1,232.0 717.0,232.7 718.0,234.1 C719.0,235.5 720.3,239.3 721.4,240.8 C722.5,242.3 724.6,242.2 725.5,244.1 C726.4,246.0 726.7,249.1 727.2,253.2 C727.7,257.3 728.2,265.2 728.8,271.5 C729.4,277.8 730.7,287.8 731.3,295.1 C731.9,302.4 732.2,312.8 732.6,320.0 C733.0,327.2 733.4,337.1 733.9,343.0 C734.4,348.9 735.0,355.1 735.6,359.0 C736.2,362.9 737.1,367.2 738.1,369.0 C739.1,370.8 741.2,369.5 742.2,371.0 C743.2,372.5 744.1,377.3 744.9,379.0 C745.7,380.7 746.3,382.0 747.4,382.3 C748.5,382.6 750.8,381.1 752.4,381.2 C754.0,381.3 756.7,383.0 758.2,383.2 C759.7,383.4 761.1,383.6 762.3,382.8 C763.5,382.1 764.7,378.4 766.1,378.2 C767.5,378.0 769.6,380.1 771.5,381.5 C773.4,382.9 776.2,386.3 778.9,387.3 C781.6,388.3 787.3,388.5 789.7,388.2 C792.1,387.9 793.2,385.8 794.7,385.2 C796.2,384.6 798.2,383.5 799.7,384.0 C801.2,384.5 803.3,388.0 804.7,388.5 C806.1,389.0 807.6,387.3 808.8,387.3 C810.0,387.3 811.2,390.0 813.0,388.5 C814.8,387.0 818.4,378.4 820.5,377.4 C822.6,376.4 825.2,380.8 827.1,381.8 C829.0,382.8 831.4,383.9 832.9,384.0 C834.4,384.1 836.2,382.3 837.4,382.3 C838.6,382.3 839.9,383.8 841.2,384.0 C842.5,384.2 844.4,382.8 846.2,383.5 C848.0,384.2 851.0,389.2 852.9,389.0 C854.8,388.8 857.1,383.9 858.7,382.3 C860.3,380.7 862.2,377.7 863.7,378.2 C865.2,378.7 867.1,384.1 868.6,385.7 C870.1,387.3 871.8,389.1 873.6,389.0 C875.4,388.9 878.7,385.4 880.3,384.8 C881.9,384.2 883.0,386.0 884.4,384.8 C885.8,383.6 887.8,377.0 889.4,376.5 C891.0,376.0 893.6,380.4 895.2,381.5 C896.8,382.6 898.5,383.7 900.2,384.0 C901.9,384.3 904.8,384.2 906.8,383.2 C908.8,382.2 911.6,377.3 913.5,377.4 C915.4,377.5 917.8,382.6 919.3,384.0 C920.8,385.4 922.4,386.9 923.5,386.5 C924.6,386.1 925.6,382.1 926.8,381.5 C928.0,380.9 930.6,381.3 931.8,382.3 C933.0,383.3 934.6,387.3 935.1,388.2" fill="none" stroke="#00b050" stroke-width="4.2" stroke-linejoin="round" stroke-linecap="butt"/>
<g fill="#000">
<rect x="587.4" y="183" width="7" height="228.5"/>
<rect x="566" y="389.7" width="378" height="6.8"/>
<rect x="568" y="183" width="22" height="6.8"/>
<rect x="568" y="252.3" width="22" height="6.8"/>
<rect x="568" y="320.7" width="22" height="6.8"/>
<rect x="762.3" y="388.5" width="6.6" height="23"/>
<rect x="937.2" y="389.7" width="6.8" height="21.8"/>
</g>
<text class="ax" x="556.3" y="196" text-anchor="end">300</text>
<text class="ax" x="556.3" y="265.3" text-anchor="end">200</text>
<text class="ax" x="556.3" y="334.5" text-anchor="end">100</text>
<text class="ax" x="556.3" y="403.5" text-anchor="end">0</text>
<text class="ax" x="589.5" y="442.8" text-anchor="middle">0</text>
<text class="ax" x="765" y="442.8" text-anchor="middle">10</text>
<text class="ax" x="940.3" y="442.8" text-anchor="middle">20</text>
<text class="ax" x="963.6" y="470.3" text-anchor="end">(<tspan font-family="Liberation Serif, serif" font-weight="normal">μ</tspan>m)</text>
<text class="ax" transform="translate(433.9 289.5) rotate(-90)" text-anchor="middle">Fluorescence</text>
<text class="ax" transform="translate(474.2 292) rotate(-90)" text-anchor="middle">(Arbitrary units)</text>

</svg>
</body></html>
